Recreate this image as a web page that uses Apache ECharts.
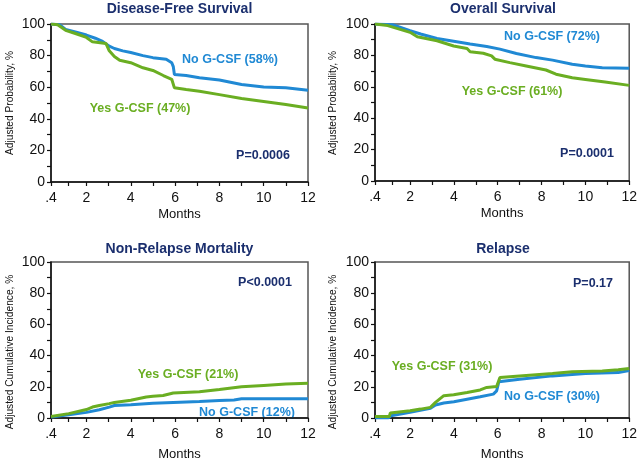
<!DOCTYPE html>
<html><head><meta charset="utf-8">
<script src="https://cdn.jsdelivr.net/npm/echarts@6/dist/echarts.min.js"></script>
<style>html,body{margin:0;padding:0;background:#fff}#c{width:640px;height:462px}</style>
</head><body><div id="c"></div>
<script>
// ---- data ----
const titles = ['Disease-Free Survival', 'Overall Survival', 'Non-Relapse Mortality', 'Relapse'];
const yNames = ['Adjusted Probability, %', 'Adjusted Probability, %', 'Adjusted Cumulative Incidence, %', 'Adjusted Cumulative Incidence, %'];
const xLabelValues = [0.4, 2, 4, 6, 8, 10, 12];
const xTickValues = [0.4, 1.2, 2, 3, 4, 5, 6, 7, 8, 9, 10, 11, 12];
const yLabelValues = [0, 20, 40, 60, 80, 100];
const yTickValues = [0, 10, 20, 30, 40, 50, 60, 70, 80, 90, 100];
const pValues = ['P=0.0006', 'P=0.0001', 'P<0.0001', 'P=0.17'];
const noLabels = ['No G-CSF (58%)', 'No G-CSF (72%)', 'No G-CSF (12%)', 'No G-CSF (30%)'];
const yesLabels = ['Yes G-CSF (47%)', 'Yes G-CSF (61%)', 'Yes G-CSF (21%)', 'Yes G-CSF (31%)'];

const dfsNo = [[0.4,100],[0.8,99.5],[1.06,96.5],[1.5,95],[2,93],[2.4,91],[2.73,89],[3.03,86],[3.26,84.5],[3.64,83],[4,82],[4.55,80],[5,78.7],[5.6,77.7],[5.85,75.5],[5.92,73],[5.97,68],[6.5,67.4],[7.1,66],[8,64.5],[9,61.7],[10,60.2],[11,59.6],[11.7,58.5],[12,58]];
const dfsYes = [[0.4,100],[0.7,99.5],[1.06,96],[1.5,94],[2,91.5],[2.27,88.7],[2.88,87.7],[3.03,83],[3.26,79.4],[3.5,77],[4,75.5],[4.55,72.3],[5,70.6],[5.47,67.4],[5.85,65],[5.97,59.6],[6.5,58.5],[7.1,57.4],[8,55.3],[9,52.8],[10,51],[11,49],[12,46.8]];
const osNo = [[0.4,100],[1.2,99.5],[2,95.7],[2.48,93.6],[3.23,90.8],[3.99,89],[4.74,87.2],[5.5,85.7],[6.1,84],[6.85,81.2],[7.75,78.6],[8.5,77],[9.4,74.4],[10,73.3],[10.77,72.2],[12,71.8]];
const osYes = [[0.4,100],[0.98,99],[2,94.7],[2.33,91.9],[3.23,89.3],[3.99,86],[4.6,84.4],[4.74,82.3],[5.34,81.4],[5.72,79.7],[5.87,77.6],[6.55,75.4],[7.3,73.3],[8.2,70.7],[8.66,68],[9.4,65.8],[10,64.7],[10.9,63],[12,60.9]];
const nrmNo = [[0.4,0.6],[1.2,2],[2,3.6],[2.58,5.3],[3.03,7],[3.26,8],[4,8.5],[5,9.5],[5.92,10],[7.1,10.6],[8,11.2],[8.66,11.6],[9,12.3],[10.2,12.3],[12,12.3]];
const nrmYes = [[0.4,1],[1.2,2.8],[2,5.4],[2.27,7],[2.58,8],[3.03,9.2],[3.26,10],[4,11.4],[4.7,13.5],[5,14],[5.46,14.4],[5.92,16],[7.1,16.8],[8,18.3],[9,20],[10,20.9],[11,21.8],[12,22.3]];
const relNo = [[0.4,0],[1.0,0],[1.13,1.5],[2,3.6],[2.93,6.2],[3.16,8.3],[3.54,9.6],[4,10.4],[4.6,12],[5.2,13.6],[5.8,15.3],[5.95,17.4],[6.05,23.2],[7,24.9],[8.5,27],[10,28.5],[11.5,29.1],[12,30.5]];
const relYes = [[0.4,0.9],[1.05,0.9],[1.1,3.2],[2,4.7],[2.48,5.7],[2.93,6.8],[3.16,10],[3.54,14.3],[3.99,14.9],[4.6,16.4],[5.2,18],[5.5,19.6],[5.95,20.2],[6.1,26],[7,27],[8.5,28.5],[9.4,29.6],[10.77,30.2],[11.5,30.9],[12,31.7]];

const noSeries = [dfsNo, osNo, nrmNo, relNo];
const yesSeries = [dfsYes, osYes, nrmYes, relYes];

// ---- layout / style ----
const BLUE = '#2089d4', GREEN = '#6aae22', NAVY = '#1b2f6e';
const FONT = 'Liberation Sans, Arial, sans-serif';
const grids = [
  {left: 51, top: 24, width: 257, height: 158},
  {left: 375, top: 24, width: 256, height: 157},
  {left: 51, top: 262, width: 257, height: 157},
  {left: 375, top: 262, width: 256, height: 157}
];
const nameGaps = [26, 26, 30, 30];
const labelMargins = [9, 9, 9, 9];
const noPos = [[230, 60], [552, 37], [247, 413], [552, 397]];
const yesPos = [[140, 109], [512, 92], [188, 375], [442, 367]];
const pPos = [[263, 156], [587, 154], [265, 283], [593, 284]];
const yNamePos = [[10, 103], [333, 103], [10, 352], [333, 352]];

const option = {
  animation: false,
  backgroundColor: '#fff',
  textStyle: {fontFamily: FONT},
  title: grids.map((g, i) => ({
    text: titles[i], left: g.left + g.width / 2, top: i < 2 ? 2 : 242, textAlign: 'center', padding: 0,
    textStyle: {fontSize: 14, fontWeight: 'bold', color: NAVY, fontFamily: FONT}
  })),
  grid: grids.map(g => Object.assign({show: true, borderColor: '#555', borderWidth: 1.5, backgroundColor: 'transparent'}, g)),
  xAxis: grids.map((g, i) => ({
    type: 'value', gridIndex: i, min: 0.4, max: 12,
    name: 'Months', nameLocation: 'middle', nameGap: nameGaps[i],
    nameTextStyle: {fontSize: 13, color: '#111', fontFamily: FONT},
    axisLine: {show: true, lineStyle: {color: '#111', width: 1.5}},
    axisTick: {show: true, length: 4, customValues: xTickValues, lineStyle: {color: '#111', width: 1.2}},
    axisLabel: {customValues: xLabelValues, fontSize: 14, color: '#111', margin: labelMargins[i],
      formatter: v => (Math.abs(v - 0.4) < 1e-6 ? '.4' : String(v))},
    splitLine: {show: false}
  })),
  yAxis: grids.map((g, i) => ({
    type: 'value', gridIndex: i, min: 0, max: 100,
    axisLine: {show: true, lineStyle: {color: '#111', width: 1.5}},
    axisTick: {show: true, length: 4, customValues: yTickValues, lineStyle: {color: '#111', width: 1.2}},
    axisLabel: {customValues: yLabelValues, fontSize: 14, color: '#111', margin: 6},
    splitLine: {show: false}
  })),
  series: [],
  graphic: []
};

for (let i = 0; i < 4; i++) {
  option.series.push({type: 'line', xAxisIndex: i, yAxisIndex: i, data: noSeries[i], showSymbol: false,
    lineStyle: {color: BLUE, width: 3}, itemStyle: {color: BLUE}});
  option.series.push({type: 'line', xAxisIndex: i, yAxisIndex: i, data: yesSeries[i], showSymbol: false,
    lineStyle: {color: GREEN, width: 3}, itemStyle: {color: GREEN}});
  const txt = (t, p, c, size, bold) => ({type: 'text', x: p[0], y: p[1],
    style: {text: t, fill: c, font: (bold ? 'bold ' : '') + size + 'px ' + FONT, textAlign: 'center', textVerticalAlign: 'middle'}});
  option.graphic.push(txt(noLabels[i], noPos[i], BLUE, 12.5, true));
  option.graphic.push(txt(yesLabels[i], yesPos[i], GREEN, 12.5, true));
  option.graphic.push(txt(pValues[i], pPos[i], NAVY, 12.5, true));
  option.graphic.push({type: 'text', x: yNamePos[i][0], y: yNamePos[i][1], rotation: Math.PI / 2,
    style: {text: yNames[i], fill: '#111', font: '10.2px ' + FONT, textAlign: 'center', textVerticalAlign: 'middle'}});
}

const chart = echarts.init(document.getElementById('c'), null, {renderer: 'canvas'});
chart.setOption(option);
</script></body></html>
